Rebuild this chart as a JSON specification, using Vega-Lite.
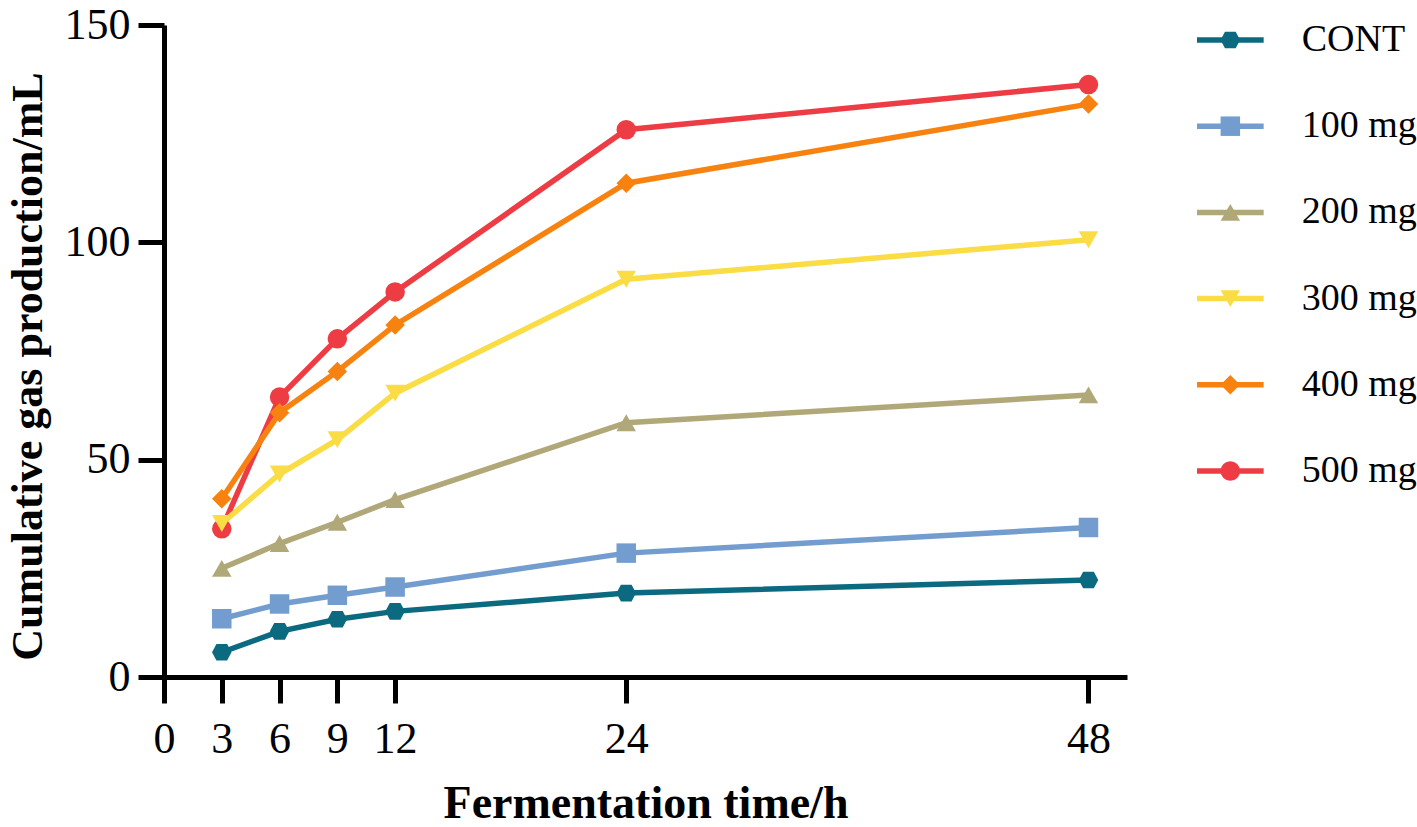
{
  "$schema": "https://vega.github.io/schema/vega-lite/v6.json",
  "background": "white",
  "padding": {"left": 6, "top": 3, "right": 0, "bottom": 0},
  "datasets": {
    "gas": [
      {"group": "500 mg", "time": 3, "gas": 34.1},
      {"group": "500 mg", "time": 6, "gas": 64.4},
      {"group": "500 mg", "time": 9, "gas": 77.8},
      {"group": "500 mg", "time": 12, "gas": 88.6},
      {"group": "500 mg", "time": 24, "gas": 125.9},
      {"group": "500 mg", "time": 48, "gas": 136.3},
      {"group": "400 mg", "time": 3, "gas": 41.0},
      {"group": "400 mg", "time": 6, "gas": 60.8},
      {"group": "400 mg", "time": 9, "gas": 70.3},
      {"group": "400 mg", "time": 12, "gas": 81.0},
      {"group": "400 mg", "time": 24, "gas": 113.6},
      {"group": "400 mg", "time": 48, "gas": 131.8},
      {"group": "300 mg", "time": 3, "gas": 35.3},
      {"group": "300 mg", "time": 6, "gas": 46.7},
      {"group": "300 mg", "time": 9, "gas": 54.6},
      {"group": "300 mg", "time": 12, "gas": 65.3},
      {"group": "300 mg", "time": 24, "gas": 91.5},
      {"group": "300 mg", "time": 48, "gas": 100.6},
      {"group": "200 mg", "time": 3, "gas": 25.0},
      {"group": "200 mg", "time": 6, "gas": 30.7},
      {"group": "200 mg", "time": 9, "gas": 35.6},
      {"group": "200 mg", "time": 12, "gas": 40.8},
      {"group": "200 mg", "time": 24, "gas": 58.5},
      {"group": "200 mg", "time": 48, "gas": 64.9},
      {"group": "100 mg", "time": 3, "gas": 13.4},
      {"group": "100 mg", "time": 6, "gas": 16.8},
      {"group": "100 mg", "time": 9, "gas": 18.8},
      {"group": "100 mg", "time": 12, "gas": 20.7},
      {"group": "100 mg", "time": 24, "gas": 28.5},
      {"group": "100 mg", "time": 48, "gas": 34.4},
      {"group": "CONT", "time": 3, "gas": 5.7},
      {"group": "CONT", "time": 6, "gas": 10.5},
      {"group": "CONT", "time": 9, "gas": 13.3},
      {"group": "CONT", "time": 12, "gas": 15.1},
      {"group": "CONT", "time": 24, "gas": 19.3},
      {"group": "CONT", "time": 48, "gas": 22.3}
    ],
    "groups": [
      {"group": "CONT"},
      {"group": "100 mg"},
      {"group": "200 mg"},
      {"group": "300 mg"},
      {"group": "400 mg"},
      {"group": "500 mg"}
    ]
  },
  "spacing": 67,
  "hconcat": [
    {
      "width": 963,
      "height": 652,
      "data": {"name": "gas"},
      "encoding": {
        "x": {
          "field": "time",
          "type": "quantitative",
          "scale": {"domain": [0, 50], "nice": false},
          "axis": {
            "values": [0, 3, 6, 9, 12, 24, 48],
            "title": "Fermentation time/h",
            "titleFontSize": 46,
            "labelPadding": 14,
            "titlePadding": 20
          }
        },
        "y": {
          "field": "gas",
          "type": "quantitative",
          "scale": {"domain": [0, 150], "nice": false},
          "axis": {
            "values": [0, 50, 100, 150],
            "title": "Cumulative gas production/mL",
            "labelPadding": 8,
            "titlePadding": 14,
            "titleY": 341
          }
        },
        "color": {
          "field": "group",
          "type": "nominal",
          "scale": {
            "domain": ["CONT", "100 mg", "200 mg", "300 mg", "400 mg", "500 mg"],
            "range": ["#0b6a80", "#739dcf", "#b1a87a", "#fadc45", "#f7820f", "#ee3c44"]
          },
          "legend": null
        }
      },
      "layer": [
        {"mark": {"type": "line", "strokeWidth": 5.5}},
        {
          "mark": {"type": "point", "filled": true, "opacity": 1, "size": 380},
          "encoding": {
            "shape": {
              "field": "group",
              "type": "nominal",
              "scale": {
                "domain": ["CONT", "100 mg", "200 mg", "300 mg", "400 mg", "500 mg"],
                "range": ["M-1,0L-0.55,-0.85L0.55,-0.85L1,0L0.55,0.85L-0.55,0.85Z", "square", "triangle-up", "triangle-down", "diamond", "circle"]
              },
              "legend": null
            }
          }
        }
      ]
    },
    {
      "width": 220,
      "height": 461,
      "data": {"name": "groups"},
      "encoding": {
        "y": {
          "field": "group",
          "type": "nominal",
          "scale": {
            "type": "point",
            "domain": ["CONT", "100 mg", "200 mg", "300 mg", "400 mg", "500 mg"],
            "padding": 0.174
          },
          "axis": null
        },
        "color": {
          "field": "group",
          "type": "nominal",
          "scale": {
            "domain": ["CONT", "100 mg", "200 mg", "300 mg", "400 mg", "500 mg"],
            "range": ["#0b6a80", "#739dcf", "#b1a87a", "#fadc45", "#f7820f", "#ee3c44"]
          },
          "legend": null
        }
      },
      "layer": [
        {
          "mark": {"type": "rule", "strokeWidth": 5.5},
          "encoding": {
            "x": {"datum": 0, "type": "quantitative", "scale": {"domain": [0, 3.3], "nice": false}, "axis": null},
            "x2": {"datum": 1}
          }
        },
        {
          "mark": {"type": "point", "filled": true, "opacity": 1, "size": 380},
          "encoding": {
            "x": {"datum": 0.5, "type": "quantitative"},
            "shape": {
              "field": "group",
              "type": "nominal",
              "scale": {
                "domain": ["CONT", "100 mg", "200 mg", "300 mg", "400 mg", "500 mg"],
                "range": ["M-1,0L-0.55,-0.85L0.55,-0.85L1,0L0.55,0.85L-0.55,0.85Z", "square", "triangle-up", "triangle-down", "diamond", "circle"]
              },
              "legend": null
            }
          }
        },
        {
          "mark": {"type": "text", "align": "left", "baseline": "middle", "font": "Liberation Serif", "fontSize": 38},
          "encoding": {
            "x": {"datum": 1.57, "type": "quantitative"},
            "text": {"field": "group"},
            "color": {"value": "black"}
          }
        }
      ]
    }
  ],
  "config": {
    "view": {"stroke": null},
    "axis": {
      "grid": false,
      "domainColor": "black",
      "domainWidth": 5,
      "tickColor": "black",
      "tickWidth": 5,
      "tickSize": 26,
      "labelFont": "Liberation Serif",
      "labelFontSize": 44,
      "labelColor": "black",
      "labelFlush": false,
      "labelOverlap": false,
      "titleFont": "Liberation Serif",
      "titleFontSize": 44,
      "titleFontWeight": "bold",
      "titleColor": "black"
    }
  }
}
